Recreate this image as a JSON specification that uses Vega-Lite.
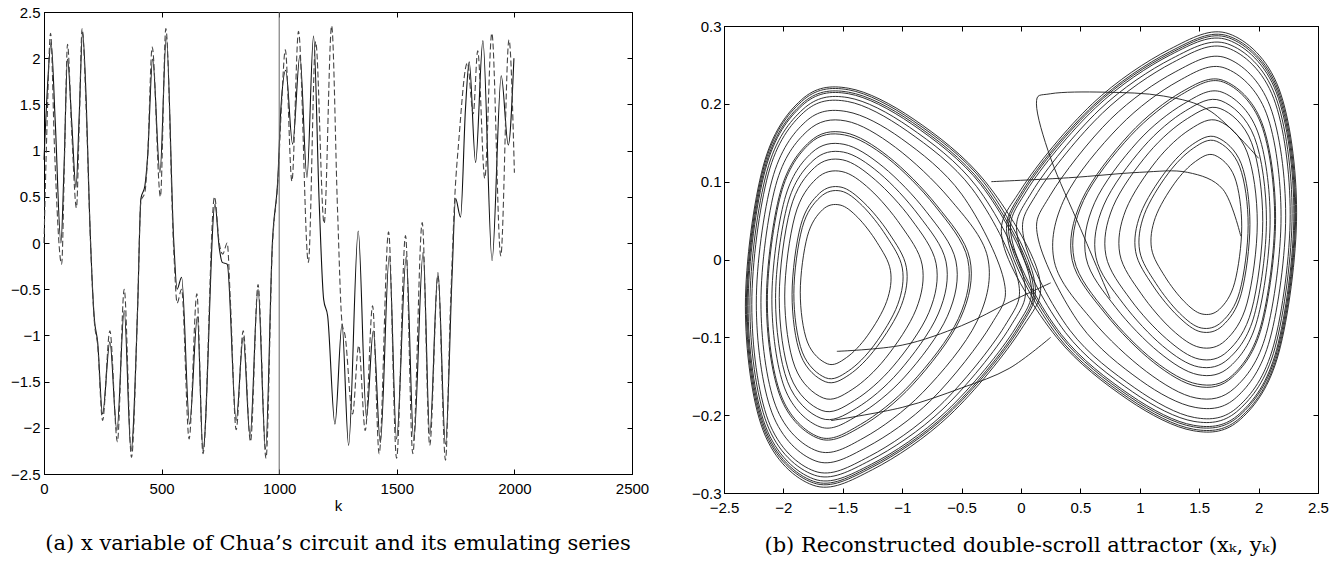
{
"$schema": "https://vega.github.io/schema/vega-lite/v6.json",
"padding": {"left": 9, "top": 0, "right": 0, "bottom": 0},
"spacing": 40,
"background": "white",
"config": {
  "view": {"stroke": "#000", "strokeWidth": 1},
  "axis": {"grid": false, "labelFont": "Liberation Sans", "labelFontSize": 15, "labelColor": "#000", "tickColor": "#000", "domainColor": "#000", "tickSize": -5, "labelPadding": 9, "labelFlush": false, "labelOverlap": false, "titleFont": "Liberation Sans", "titleFontWeight": "normal", "titleFontSize": 15, "titleColor": "#000"},
  "title": {"font": "DejaVu Serif", "fontSize": 21, "fontWeight": "normal", "color": "#000", "orient": "bottom"}
},
"datasets": {
  "solid": [
{"k":0,"v":0.9},{"k":15,"v":1.7},{"k":30,"v":2.17},{"k":48,"v":1.3},{"k":72,"v":0.0},{"k":85,"v":0.8},{"k":100,"v":1.99},{"k":118,"v":1.3},{"k":136,"v":0.6},{"k":150,"v":1.4},{"k":164,"v":2.28},{"k":180,"v":1.5},{"k":193,"v":0.37},{"k":214,"v":-0.82},{"k":228,"v":-1.07},{"k":249,"v":-1.85},{"k":280,"v":-1.07},{"k":310,"v":-2.03},{"k":341,"v":-0.73},{"k":370,"v":-2.25},{"k":398,"v":-0.71},{"k":412,"v":0.48},{"k":429,"v":0.62},{"k":440,"v":0.91},{"k":462,"v":1.99},{"k":493,"v":0.76},{"k":520,"v":2.23},{"k":552,"v":0.0},{"k":566,"v":-0.5},{"k":585,"v":-0.37},{"k":619,"v":-1.96},{"k":652,"v":-0.8},{"k":676,"v":-2.25},{"k":727,"v":0.42},{"k":745,"v":-0.05},{"k":758,"v":-0.21},{"k":779,"v":-0.23},{"k":817,"v":-1.92},{"k":847,"v":-1.02},{"k":876,"v":-2.09},{"k":910,"v":-0.5},{"k":942,"v":-2.23},{"k":971,"v":0.0},{"k":995,"v":0.73},{"k":1007,"v":1.45},{"k":1028,"v":1.87},{"k":1057,"v":1.07},{"k":1088,"v":2.03},{"k":1118,"v":0.71},{"k":1146,"v":2.24},{"k":1170,"v":0.44},{"k":1189,"v":-0.61},{"k":1206,"v":-0.79},{"k":1237,"v":-1.96},{"k":1267,"v":-0.88},{"k":1295,"v":-2.19},{"k":1336,"v":0.13},{"k":1371,"v":-1.89},{"k":1400,"v":-0.95},{"k":1430,"v":-2.16},{"k":1468,"v":-0.14},{"k":1499,"v":-2.12},{"k":1540,"v":-0.15},{"k":1572,"v":-2.14},{"k":1612,"v":-0.1},{"k":1640,"v":-2.07},{"k":1675,"v":-0.32},{"k":1707,"v":-2.18},{"k":1735,"v":-0.35},{"k":1750,"v":0.48},{"k":1771,"v":0.28},{"k":1792,"v":1.45},{"k":1808,"v":1.96},{"k":1835,"v":0.87},{"k":1866,"v":2.19},{"k":1905,"v":-0.19},{"k":1944,"v":1.81},{"k":1974,"v":1.06},{"k":1998,"v":2.0}
  ],
  "dashed": [
{"k":0,"v":0.0},{"k":12,"v":1.2},{"k":28,"v":2.27},{"k":45,"v":1.0},{"k":75,"v":-0.23},{"k":88,"v":1.0},{"k":100,"v":2.15},{"k":118,"v":1.2},{"k":138,"v":0.38},{"k":150,"v":1.3},{"k":162,"v":2.32},{"k":180,"v":1.4},{"k":195,"v":0.2},{"k":214,"v":-0.85},{"k":228,"v":-1.1},{"k":249,"v":-1.92},{"k":280,"v":-0.95},{"k":312,"v":-2.15},{"k":341,"v":-0.5},{"k":372,"v":-2.32},{"k":398,"v":-0.7},{"k":412,"v":0.45},{"k":429,"v":0.55},{"k":440,"v":0.9},{"k":460,"v":2.12},{"k":495,"v":0.5},{"k":518,"v":2.32},{"k":552,"v":-0.1},{"k":566,"v":-0.65},{"k":585,"v":-0.5},{"k":617,"v":-2.12},{"k":650,"v":-0.55},{"k":676,"v":-2.28},{"k":725,"v":0.5},{"k":745,"v":0.0},{"k":760,"v":-0.12},{"k":779,"v":0.0},{"k":792,"v":-0.6},{"k":817,"v":-2.02},{"k":847,"v":-0.95},{"k":878,"v":-2.15},{"k":910,"v":-0.45},{"k":944,"v":-2.33},{"k":970,"v":-0.1},{"k":995,"v":0.7},{"k":1010,"v":1.5},{"k":1026,"v":2.09},{"k":1054,"v":0.67},{"k":1082,"v":2.29},{"k":1124,"v":-0.21},{"k":1155,"v":2.18},{"k":1191,"v":0.21},{"k":1223,"v":2.35},{"k":1248,"v":0.36},{"k":1267,"v":-0.86},{"k":1280,"v":-1.0},{"k":1312,"v":-1.85},{"k":1338,"v":-1.11},{"k":1366,"v":-2.03},{"k":1397,"v":-0.68},{"k":1425,"v":-2.28},{"k":1465,"v":0.12},{"k":1499,"v":-2.33},{"k":1537,"v":0.08},{"k":1568,"v":-2.28},{"k":1608,"v":0.22},{"k":1640,"v":-2.19},{"k":1675,"v":-0.35},{"k":1707,"v":-2.35},{"k":1728,"v":-0.7},{"k":1747,"v":0.52},{"k":1763,"v":1.09},{"k":1800,"v":1.95},{"k":1825,"v":1.4},{"k":1844,"v":2.08},{"k":1874,"v":0.7},{"k":1904,"v":2.27},{"k":1942,"v":-0.14},{"k":1977,"v":2.2},{"k":2000,"v":0.76}
  ],
  "loops": [
{"g":"L1","i":0,"x":-1.858,"y":-0.042},{"g":"L1","i":1,"x":-1.798,"y":0.03},{"g":"L1","i":2,"x":-1.67,"y":0.064},{"g":"L1","i":3,"x":-1.523,"y":0.07},{"g":"L1","i":4,"x":-1.374,"y":0.054},{"g":"L1","i":5,"x":-1.212,"y":0.022},{"g":"L1","i":6,"x":-1.099,"y":-0.014},{"g":"L1","i":7,"x":-1.131,"y":-0.054},{"g":"L1","i":8,"x":-1.293,"y":-0.098},{"g":"L1","i":9,"x":-1.469,"y":-0.126},{"g":"L1","i":10,"x":-1.63,"y":-0.134},{"g":"L1","i":11,"x":-1.798,"y":-0.106},
{"g":"L2","i":0,"x":-1.912,"y":-0.044},{"g":"L2","i":1,"x":-1.841,"y":0.041},{"g":"L2","i":2,"x":-1.691,"y":0.08},{"g":"L2","i":3,"x":-1.517,"y":0.088},{"g":"L2","i":4,"x":-1.335,"y":0.069},{"g":"L2","i":5,"x":-1.137,"y":0.031},{"g":"L2","i":6,"x":-0.999,"y":-0.011},{"g":"L2","i":7,"x":-1.038,"y":-0.058},{"g":"L2","i":8,"x":-1.236,"y":-0.11},{"g":"L2","i":9,"x":-1.451,"y":-0.143},{"g":"L2","i":10,"x":-1.644,"y":-0.152},{"g":"L2","i":11,"x":-1.841,"y":-0.119},
{"g":"L3","i":0,"x":-1.927,"y":-0.045},{"g":"L3","i":1,"x":-1.854,"y":0.044},{"g":"L3","i":2,"x":-1.697,"y":0.085},{"g":"L3","i":3,"x":-1.515,"y":0.093},{"g":"L3","i":4,"x":-1.322,"y":0.073},{"g":"L3","i":5,"x":-1.112,"y":0.034},{"g":"L3","i":6,"x":-0.965,"y":-0.01},{"g":"L3","i":7,"x":-1.007,"y":-0.059},{"g":"L3","i":8,"x":-1.217,"y":-0.113},{"g":"L3","i":9,"x":-1.445,"y":-0.148},{"g":"L3","i":10,"x":-1.648,"y":-0.157},{"g":"L3","i":11,"x":-1.854,"y":-0.123},
{"g":"L4","i":0,"x":-1.989,"y":-0.047},{"g":"L4","i":1,"x":-1.903,"y":0.056},{"g":"L4","i":2,"x":-1.721,"y":0.104},{"g":"L4","i":3,"x":-1.507,"y":0.113},{"g":"L4","i":4,"x":-1.27,"y":0.09},{"g":"L4","i":5,"x":-1.012,"y":0.044},{"g":"L4","i":6,"x":-0.832,"y":-0.007},{"g":"L4","i":7,"x":-0.883,"y":-0.064},{"g":"L4","i":8,"x":-1.141,"y":-0.127},{"g":"L4","i":9,"x":-1.421,"y":-0.167},{"g":"L4","i":10,"x":-1.664,"y":-0.178},{"g":"L4","i":11,"x":-1.903,"y":-0.138},
{"g":"L5","i":0,"x":-2.035,"y":-0.049},{"g":"L5","i":1,"x":-1.941,"y":0.065},{"g":"L5","i":2,"x":-1.739,"y":0.118},{"g":"L5","i":3,"x":-1.5,"y":0.128},{"g":"L5","i":4,"x":-1.225,"y":0.102},{"g":"L5","i":5,"x":-0.925,"y":0.052},{"g":"L5","i":6,"x":-0.715,"y":-0.005},{"g":"L5","i":7,"x":-0.775,"y":-0.068},{"g":"L5","i":8,"x":-1.075,"y":-0.137},{"g":"L5","i":9,"x":-1.4,"y":-0.181},{"g":"L5","i":10,"x":-1.676,"y":-0.194},{"g":"L5","i":11,"x":-1.941,"y":-0.15},
{"g":"L6","i":0,"x":-2.066,"y":-0.05},{"g":"L6","i":1,"x":-1.965,"y":0.071},{"g":"L6","i":2,"x":-1.751,"y":0.127},{"g":"L6","i":3,"x":-1.495,"y":0.138},{"g":"L6","i":4,"x":-1.192,"y":0.111},{"g":"L6","i":5,"x":-0.862,"y":0.057},{"g":"L6","i":6,"x":-0.631,"y":-0.003},{"g":"L6","i":7,"x":-0.697,"y":-0.07},{"g":"L6","i":8,"x":-1.027,"y":-0.144},{"g":"L6","i":9,"x":-1.385,"y":-0.191},{"g":"L6","i":10,"x":-1.684,"y":-0.204},{"g":"L6","i":11,"x":-1.965,"y":-0.157},
{"g":"L17","i":0,"x":-2.097,"y":-0.051},{"g":"L17","i":1,"x":-1.99,"y":0.077},{"g":"L17","i":2,"x":-1.763,"y":0.137},{"g":"L17","i":3,"x":-1.49,"y":0.148},{"g":"L17","i":4,"x":-1.16,"y":0.119},{"g":"L17","i":5,"x":-0.8,"y":0.062},{"g":"L17","i":6,"x":-0.548,"y":-0.002},{"g":"L17","i":7,"x":-0.62,"y":-0.073},{"g":"L17","i":8,"x":-0.98,"y":-0.151},{"g":"L17","i":9,"x":-1.37,"y":-0.2},{"g":"L17","i":10,"x":-1.692,"y":-0.215},{"g":"L17","i":11,"x":-1.99,"y":-0.165},
{"g":"L7","i":0,"x":-2.135,"y":-0.053},{"g":"L7","i":1,"x":-2.021,"y":0.084},{"g":"L7","i":2,"x":-1.778,"y":0.149},{"g":"L7","i":3,"x":-1.484,"y":0.16},{"g":"L7","i":4,"x":-1.121,"y":0.13},{"g":"L7","i":5,"x":-0.725,"y":0.069},{"g":"L7","i":6,"x":-0.448,"y":0.0},{"g":"L7","i":7,"x":-0.527,"y":-0.076},{"g":"L7","i":8,"x":-0.923,"y":-0.159},{"g":"L7","i":9,"x":-1.352,"y":-0.212},{"g":"L7","i":10,"x":-1.702,"y":-0.228},{"g":"L7","i":11,"x":-2.021,"y":-0.174},
{"g":"L8","i":0,"x":-2.143,"y":-0.053},{"g":"L8","i":1,"x":-2.027,"y":0.086},{"g":"L8","i":2,"x":-1.781,"y":0.151},{"g":"L8","i":3,"x":-1.483,"y":0.163},{"g":"L8","i":4,"x":-1.114,"y":0.132},{"g":"L8","i":5,"x":-0.712,"y":0.07},{"g":"L8","i":6,"x":-0.431,"y":0.001},{"g":"L8","i":7,"x":-0.511,"y":-0.076},{"g":"L8","i":8,"x":-0.913,"y":-0.161},{"g":"L8","i":9,"x":-1.349,"y":-0.215},{"g":"L8","i":10,"x":-1.704,"y":-0.23},{"g":"L8","i":11,"x":-2.027,"y":-0.176},
{"g":"L9","i":0,"x":-2.189,"y":-0.055},{"g":"L9","i":1,"x":-2.065,"y":0.095},{"g":"L9","i":2,"x":-1.799,"y":0.165},{"g":"L9","i":3,"x":-1.474,"y":0.178},{"g":"L9","i":4,"x":-1.056,"y":0.144},{"g":"L9","i":5,"x":-0.6,"y":0.078},{"g":"L9","i":6,"x":-0.281,"y":0.003},{"g":"L9","i":7,"x":-0.372,"y":-0.08},{"g":"L9","i":8,"x":-0.828,"y":-0.171},{"g":"L9","i":9,"x":-1.322,"y":-0.229},{"g":"L9","i":10,"x":-1.716,"y":-0.246},{"g":"L9","i":11,"x":-2.065,"y":-0.188},
{"g":"L10","i":0,"x":-2.228,"y":-0.056},{"g":"L10","i":1,"x":-2.096,"y":0.102},{"g":"L10","i":2,"x":-1.814,"y":0.177},{"g":"L10","i":3,"x":-1.466,"y":0.19},{"g":"L10","i":4,"x":-1.004,"y":0.155},{"g":"L10","i":5,"x":-0.5,"y":0.084},{"g":"L10","i":6,"x":-0.147,"y":-0.025},{"g":"L10","i":7,"x":-0.248,"y":-0.083},{"g":"L10","i":8,"x":-0.752,"y":-0.18},{"g":"L10","i":9,"x":-1.298,"y":-0.241},{"g":"L10","i":10,"x":-1.726,"y":-0.259},{"g":"L10","i":11,"x":-2.096,"y":-0.197},
{"g":"L11","i":0,"x":-2.266,"y":-0.058},{"g":"L11","i":1,"x":-2.127,"y":0.11},{"g":"L11","i":2,"x":-1.829,"y":0.189},{"g":"L11","i":3,"x":-1.459,"y":0.203},{"g":"L11","i":4,"x":-0.958,"y":0.165},{"g":"L11","i":5,"x":-0.412,"y":0.091},{"g":"L11","i":6,"x":-0.03,"y":-0.023},{"g":"L11","i":7,"x":-0.139,"y":-0.086},{"g":"L11","i":8,"x":-0.685,"y":-0.188},{"g":"L11","i":9,"x":-1.277,"y":-0.253},{"g":"L11","i":10,"x":-1.736,"y":-0.272},{"g":"L11","i":11,"x":-2.127,"y":-0.207},
{"g":"L15","i":0,"x":-2.282,"y":-0.059},{"g":"L15","i":1,"x":-2.139,"y":0.113},{"g":"L15","i":2,"x":-1.835,"y":0.193},{"g":"L15","i":3,"x":-1.456,"y":0.208},{"g":"L15","i":4,"x":-0.939,"y":0.17},{"g":"L15","i":5,"x":-0.375,"y":0.094},{"g":"L15","i":6,"x":0.02,"y":-0.022},{"g":"L15","i":7,"x":-0.093,"y":-0.087},{"g":"L15","i":8,"x":-0.657,"y":-0.192},{"g":"L15","i":9,"x":-1.268,"y":-0.258},{"g":"L15","i":10,"x":-1.74,"y":-0.277},{"g":"L15","i":11,"x":-2.139,"y":-0.211},
{"g":"L12","i":0,"x":-2.297,"y":-0.059},{"g":"L12","i":1,"x":-2.151,"y":0.116},{"g":"L12","i":2,"x":-1.841,"y":0.198},{"g":"L12","i":3,"x":-1.453,"y":0.213},{"g":"L12","i":4,"x":-0.919,"y":0.174},{"g":"L12","i":5,"x":-0.337,"y":0.096},{"g":"L12","i":6,"x":0.07,"y":-0.021},{"g":"L12","i":7,"x":-0.046,"y":-0.088},{"g":"L12","i":8,"x":-0.628,"y":-0.195},{"g":"L12","i":9,"x":-1.259,"y":-0.263},{"g":"L12","i":10,"x":-1.744,"y":-0.282},{"g":"L12","i":11,"x":-2.151,"y":-0.214},
{"g":"L13","i":0,"x":-2.305,"y":-0.059},{"g":"L13","i":1,"x":-2.158,"y":0.117},{"g":"L13","i":2,"x":-1.844,"y":0.2},{"g":"L13","i":3,"x":-1.452,"y":0.215},{"g":"L13","i":4,"x":-0.913,"y":0.176},{"g":"L13","i":5,"x":-0.325,"y":0.097},{"g":"L13","i":6,"x":0.087,"y":-0.021},{"g":"L13","i":7,"x":-0.031,"y":-0.089},{"g":"L13","i":8,"x":-0.619,"y":-0.197},{"g":"L13","i":9,"x":-1.256,"y":-0.265},{"g":"L13","i":10,"x":-1.746,"y":-0.285},{"g":"L13","i":11,"x":-2.158,"y":-0.216},
{"g":"L16","i":0,"x":-2.312,"y":-0.06},{"g":"L16","i":1,"x":-2.164,"y":0.119},{"g":"L16","i":2,"x":-1.847,"y":0.203},{"g":"L16","i":3,"x":-1.451,"y":0.218},{"g":"L16","i":4,"x":-0.906,"y":0.178},{"g":"L16","i":5,"x":-0.313,"y":0.099},{"g":"L16","i":6,"x":0.103,"y":-0.02},{"g":"L16","i":7,"x":-0.016,"y":-0.089},{"g":"L16","i":8,"x":-0.609,"y":-0.198},{"g":"L16","i":9,"x":-1.253,"y":-0.267},{"g":"L16","i":10,"x":-1.748,"y":-0.287},{"g":"L16","i":11,"x":-2.164,"y":-0.218},
{"g":"L14","i":0,"x":-2.32,"y":-0.06},{"g":"L14","i":1,"x":-2.17,"y":0.12},{"g":"L14","i":2,"x":-1.85,"y":0.205},{"g":"L14","i":3,"x":-1.45,"y":0.22},{"g":"L14","i":4,"x":-0.9,"y":0.18},{"g":"L14","i":5,"x":-0.3,"y":0.1},{"g":"L14","i":6,"x":0.15,"y":-0.02},{"g":"L14","i":7,"x":0.0,"y":-0.09},{"g":"L14","i":8,"x":-0.6,"y":-0.2},{"g":"L14","i":9,"x":-1.25,"y":-0.27},{"g":"L14","i":10,"x":-1.75,"y":-0.29},{"g":"L14","i":11,"x":-2.17,"y":-0.22},
{"g":"R1","i":0,"x":1.858,"y":0.042},{"g":"R1","i":1,"x":1.798,"y":-0.03},{"g":"R1","i":2,"x":1.67,"y":-0.064},{"g":"R1","i":3,"x":1.523,"y":-0.07},{"g":"R1","i":4,"x":1.374,"y":-0.054},{"g":"R1","i":5,"x":1.212,"y":-0.022},{"g":"R1","i":6,"x":1.099,"y":0.014},{"g":"R1","i":7,"x":1.131,"y":0.054},{"g":"R1","i":8,"x":1.293,"y":0.098},{"g":"R1","i":9,"x":1.469,"y":0.126},{"g":"R1","i":10,"x":1.63,"y":0.134},{"g":"R1","i":11,"x":1.798,"y":0.106},
{"g":"R2","i":0,"x":1.912,"y":0.044},{"g":"R2","i":1,"x":1.841,"y":-0.041},{"g":"R2","i":2,"x":1.691,"y":-0.08},{"g":"R2","i":3,"x":1.517,"y":-0.088},{"g":"R2","i":4,"x":1.335,"y":-0.069},{"g":"R2","i":5,"x":1.137,"y":-0.031},{"g":"R2","i":6,"x":0.999,"y":0.011},{"g":"R2","i":7,"x":1.038,"y":0.058},{"g":"R2","i":8,"x":1.236,"y":0.11},{"g":"R2","i":9,"x":1.451,"y":0.143},{"g":"R2","i":10,"x":1.644,"y":0.152},{"g":"R2","i":11,"x":1.841,"y":0.119},
{"g":"R3","i":0,"x":1.927,"y":0.045},{"g":"R3","i":1,"x":1.854,"y":-0.044},{"g":"R3","i":2,"x":1.697,"y":-0.085},{"g":"R3","i":3,"x":1.515,"y":-0.093},{"g":"R3","i":4,"x":1.322,"y":-0.073},{"g":"R3","i":5,"x":1.112,"y":-0.034},{"g":"R3","i":6,"x":0.965,"y":0.01},{"g":"R3","i":7,"x":1.007,"y":0.059},{"g":"R3","i":8,"x":1.217,"y":0.113},{"g":"R3","i":9,"x":1.445,"y":0.148},{"g":"R3","i":10,"x":1.648,"y":0.157},{"g":"R3","i":11,"x":1.854,"y":0.123},
{"g":"R4","i":0,"x":1.989,"y":0.047},{"g":"R4","i":1,"x":1.903,"y":-0.056},{"g":"R4","i":2,"x":1.721,"y":-0.104},{"g":"R4","i":3,"x":1.507,"y":-0.113},{"g":"R4","i":4,"x":1.27,"y":-0.09},{"g":"R4","i":5,"x":1.012,"y":-0.044},{"g":"R4","i":6,"x":0.832,"y":0.007},{"g":"R4","i":7,"x":0.883,"y":0.064},{"g":"R4","i":8,"x":1.141,"y":0.127},{"g":"R4","i":9,"x":1.421,"y":0.167},{"g":"R4","i":10,"x":1.664,"y":0.178},{"g":"R4","i":11,"x":1.903,"y":0.138},
{"g":"R5","i":0,"x":2.035,"y":0.049},{"g":"R5","i":1,"x":1.941,"y":-0.065},{"g":"R5","i":2,"x":1.739,"y":-0.118},{"g":"R5","i":3,"x":1.5,"y":-0.128},{"g":"R5","i":4,"x":1.225,"y":-0.102},{"g":"R5","i":5,"x":0.925,"y":-0.052},{"g":"R5","i":6,"x":0.715,"y":0.005},{"g":"R5","i":7,"x":0.775,"y":0.068},{"g":"R5","i":8,"x":1.075,"y":0.137},{"g":"R5","i":9,"x":1.4,"y":0.181},{"g":"R5","i":10,"x":1.676,"y":0.194},{"g":"R5","i":11,"x":1.941,"y":0.15},
{"g":"R6","i":0,"x":2.066,"y":0.05},{"g":"R6","i":1,"x":1.965,"y":-0.071},{"g":"R6","i":2,"x":1.751,"y":-0.127},{"g":"R6","i":3,"x":1.495,"y":-0.138},{"g":"R6","i":4,"x":1.192,"y":-0.111},{"g":"R6","i":5,"x":0.862,"y":-0.057},{"g":"R6","i":6,"x":0.631,"y":0.003},{"g":"R6","i":7,"x":0.697,"y":0.07},{"g":"R6","i":8,"x":1.027,"y":0.144},{"g":"R6","i":9,"x":1.385,"y":0.191},{"g":"R6","i":10,"x":1.684,"y":0.204},{"g":"R6","i":11,"x":1.965,"y":0.157},
{"g":"R17","i":0,"x":2.097,"y":0.051},{"g":"R17","i":1,"x":1.99,"y":-0.077},{"g":"R17","i":2,"x":1.763,"y":-0.137},{"g":"R17","i":3,"x":1.49,"y":-0.148},{"g":"R17","i":4,"x":1.16,"y":-0.119},{"g":"R17","i":5,"x":0.8,"y":-0.062},{"g":"R17","i":6,"x":0.548,"y":0.002},{"g":"R17","i":7,"x":0.62,"y":0.073},{"g":"R17","i":8,"x":0.98,"y":0.151},{"g":"R17","i":9,"x":1.37,"y":0.2},{"g":"R17","i":10,"x":1.692,"y":0.215},{"g":"R17","i":11,"x":1.99,"y":0.165},
{"g":"R7","i":0,"x":2.135,"y":0.053},{"g":"R7","i":1,"x":2.021,"y":-0.084},{"g":"R7","i":2,"x":1.778,"y":-0.149},{"g":"R7","i":3,"x":1.484,"y":-0.16},{"g":"R7","i":4,"x":1.121,"y":-0.13},{"g":"R7","i":5,"x":0.725,"y":-0.069},{"g":"R7","i":6,"x":0.448,"y":0.0},{"g":"R7","i":7,"x":0.527,"y":0.076},{"g":"R7","i":8,"x":0.923,"y":0.159},{"g":"R7","i":9,"x":1.352,"y":0.212},{"g":"R7","i":10,"x":1.702,"y":0.228},{"g":"R7","i":11,"x":2.021,"y":0.174},
{"g":"R8","i":0,"x":2.143,"y":0.053},{"g":"R8","i":1,"x":2.027,"y":-0.086},{"g":"R8","i":2,"x":1.781,"y":-0.151},{"g":"R8","i":3,"x":1.483,"y":-0.163},{"g":"R8","i":4,"x":1.114,"y":-0.132},{"g":"R8","i":5,"x":0.712,"y":-0.07},{"g":"R8","i":6,"x":0.431,"y":-0.001},{"g":"R8","i":7,"x":0.511,"y":0.076},{"g":"R8","i":8,"x":0.913,"y":0.161},{"g":"R8","i":9,"x":1.349,"y":0.215},{"g":"R8","i":10,"x":1.704,"y":0.23},{"g":"R8","i":11,"x":2.027,"y":0.176},
{"g":"R9","i":0,"x":2.189,"y":0.055},{"g":"R9","i":1,"x":2.065,"y":-0.095},{"g":"R9","i":2,"x":1.799,"y":-0.165},{"g":"R9","i":3,"x":1.474,"y":-0.178},{"g":"R9","i":4,"x":1.056,"y":-0.144},{"g":"R9","i":5,"x":0.6,"y":-0.078},{"g":"R9","i":6,"x":0.281,"y":-0.003},{"g":"R9","i":7,"x":0.372,"y":0.08},{"g":"R9","i":8,"x":0.828,"y":0.171},{"g":"R9","i":9,"x":1.322,"y":0.229},{"g":"R9","i":10,"x":1.716,"y":0.246},{"g":"R9","i":11,"x":2.065,"y":0.188},
{"g":"R10","i":0,"x":2.228,"y":0.056},{"g":"R10","i":1,"x":2.096,"y":-0.102},{"g":"R10","i":2,"x":1.814,"y":-0.177},{"g":"R10","i":3,"x":1.466,"y":-0.19},{"g":"R10","i":4,"x":1.004,"y":-0.155},{"g":"R10","i":5,"x":0.5,"y":-0.084},{"g":"R10","i":6,"x":0.147,"y":0.025},{"g":"R10","i":7,"x":0.248,"y":0.083},{"g":"R10","i":8,"x":0.752,"y":0.18},{"g":"R10","i":9,"x":1.298,"y":0.241},{"g":"R10","i":10,"x":1.726,"y":0.259},{"g":"R10","i":11,"x":2.096,"y":0.197},
{"g":"R11","i":0,"x":2.266,"y":0.058},{"g":"R11","i":1,"x":2.127,"y":-0.11},{"g":"R11","i":2,"x":1.829,"y":-0.189},{"g":"R11","i":3,"x":1.459,"y":-0.203},{"g":"R11","i":4,"x":0.958,"y":-0.165},{"g":"R11","i":5,"x":0.412,"y":-0.091},{"g":"R11","i":6,"x":0.03,"y":0.023},{"g":"R11","i":7,"x":0.139,"y":0.086},{"g":"R11","i":8,"x":0.685,"y":0.188},{"g":"R11","i":9,"x":1.277,"y":0.253},{"g":"R11","i":10,"x":1.736,"y":0.272},{"g":"R11","i":11,"x":2.127,"y":0.207},
{"g":"R15","i":0,"x":2.282,"y":0.059},{"g":"R15","i":1,"x":2.139,"y":-0.113},{"g":"R15","i":2,"x":1.835,"y":-0.193},{"g":"R15","i":3,"x":1.456,"y":-0.208},{"g":"R15","i":4,"x":0.939,"y":-0.17},{"g":"R15","i":5,"x":0.375,"y":-0.094},{"g":"R15","i":6,"x":-0.02,"y":0.022},{"g":"R15","i":7,"x":0.093,"y":0.087},{"g":"R15","i":8,"x":0.657,"y":0.192},{"g":"R15","i":9,"x":1.268,"y":0.258},{"g":"R15","i":10,"x":1.74,"y":0.277},{"g":"R15","i":11,"x":2.139,"y":0.211},
{"g":"R12","i":0,"x":2.297,"y":0.059},{"g":"R12","i":1,"x":2.151,"y":-0.116},{"g":"R12","i":2,"x":1.841,"y":-0.198},{"g":"R12","i":3,"x":1.453,"y":-0.213},{"g":"R12","i":4,"x":0.919,"y":-0.174},{"g":"R12","i":5,"x":0.337,"y":-0.096},{"g":"R12","i":6,"x":-0.07,"y":0.021},{"g":"R12","i":7,"x":0.046,"y":0.088},{"g":"R12","i":8,"x":0.628,"y":0.195},{"g":"R12","i":9,"x":1.259,"y":0.263},{"g":"R12","i":10,"x":1.744,"y":0.282},{"g":"R12","i":11,"x":2.151,"y":0.214},
{"g":"R13","i":0,"x":2.305,"y":0.059},{"g":"R13","i":1,"x":2.158,"y":-0.117},{"g":"R13","i":2,"x":1.844,"y":-0.2},{"g":"R13","i":3,"x":1.452,"y":-0.215},{"g":"R13","i":4,"x":0.913,"y":-0.176},{"g":"R13","i":5,"x":0.325,"y":-0.097},{"g":"R13","i":6,"x":-0.087,"y":0.021},{"g":"R13","i":7,"x":0.031,"y":0.089},{"g":"R13","i":8,"x":0.619,"y":0.197},{"g":"R13","i":9,"x":1.256,"y":0.265},{"g":"R13","i":10,"x":1.746,"y":0.285},{"g":"R13","i":11,"x":2.158,"y":0.216},
{"g":"R16","i":0,"x":2.312,"y":0.06},{"g":"R16","i":1,"x":2.164,"y":-0.119},{"g":"R16","i":2,"x":1.847,"y":-0.203},{"g":"R16","i":3,"x":1.451,"y":-0.218},{"g":"R16","i":4,"x":0.906,"y":-0.178},{"g":"R16","i":5,"x":0.313,"y":-0.099},{"g":"R16","i":6,"x":-0.103,"y":0.02},{"g":"R16","i":7,"x":0.016,"y":0.089},{"g":"R16","i":8,"x":0.609,"y":0.198},{"g":"R16","i":9,"x":1.253,"y":0.267},{"g":"R16","i":10,"x":1.748,"y":0.287},{"g":"R16","i":11,"x":2.164,"y":0.218},
{"g":"R14","i":0,"x":2.32,"y":0.06},{"g":"R14","i":1,"x":2.17,"y":-0.12},{"g":"R14","i":2,"x":1.85,"y":-0.205},{"g":"R14","i":3,"x":1.45,"y":-0.22},{"g":"R14","i":4,"x":0.9,"y":-0.18},{"g":"R14","i":5,"x":0.3,"y":-0.1},{"g":"R14","i":6,"x":-0.15,"y":0.02},{"g":"R14","i":7,"x":0.0,"y":0.09},{"g":"R14","i":8,"x":0.6,"y":0.2},{"g":"R14","i":9,"x":1.25,"y":0.27},{"g":"R14","i":10,"x":1.75,"y":0.29},{"g":"R14","i":11,"x":2.17,"y":0.22}
  ],
  "paths": [
{"g":"T1","i":0,"x":0.75,"y":-0.05},{"g":"T1","i":1,"x":0.5,"y":0.04},{"g":"T1","i":2,"x":0.25,"y":0.13},{"g":"T1","i":3,"x":0.13,"y":0.2},{"g":"T1","i":4,"x":0.25,"y":0.213},{"g":"T1","i":5,"x":0.7,"y":0.215},{"g":"T1","i":6,"x":1.2,"y":0.21},{"g":"T1","i":7,"x":1.6,"y":0.19},{"g":"T1","i":8,"x":2.0,"y":0.13},
{"g":"T2","i":0,"x":-0.25,"y":0.1},{"g":"T2","i":1,"x":0.4,"y":0.105},{"g":"T2","i":2,"x":1.0,"y":0.112},{"g":"T2","i":3,"x":1.4,"y":0.112},{"g":"T2","i":4,"x":1.7,"y":0.09},{"g":"T2","i":5,"x":1.85,"y":0.03},
{"g":"T3","i":0,"x":-1.55,"y":-0.118},{"g":"T3","i":1,"x":-1.0,"y":-0.11},{"g":"T3","i":2,"x":-0.5,"y":-0.085},{"g":"T3","i":3,"x":-0.1,"y":-0.055},{"g":"T3","i":4,"x":0.25,"y":-0.03},
{"g":"T4","i":0,"x":-1.6,"y":-0.207},{"g":"T4","i":1,"x":-1.0,"y":-0.19},{"g":"T4","i":2,"x":-0.5,"y":-0.165},{"g":"T4","i":3,"x":-0.1,"y":-0.14},{"g":"T4","i":4,"x":0.25,"y":-0.1}
  ]
},
"hconcat": [
  {
    "width": 588, "height": 462,
    "title": {"text": "(a) x variable of Chua’s circuit and its emulating series", "offset": 20},
    "resolve": {"axis": {"x": "independent", "y": "independent"}},
    "layer": [
      {"data": {"name": "solid"}, "mark": {"type": "line", "interpolate": "monotone", "color": "#111", "strokeWidth": 1.1},
       "encoding": {
         "x": {"field": "k", "type": "quantitative", "scale": {"domain": [0, 2500], "nice": false, "zero": false}, "axis": {"values": [0, 500, 1000, 1500, 2000, 2500], "format": "d", "title": "k", "titlePadding": 2, "labelPadding": 12}},
         "y": {"field": "v", "type": "quantitative", "scale": {"domain": [-2.5, 2.5], "nice": false, "zero": false}, "axis": {"values": [-2.5, -2, -1.5, -1, -0.5, 0, 0.5, 1, 1.5, 2, 2.5], "format": "~g", "title": null}}
       }},
      {"data": {"name": "dashed"}, "mark": {"type": "line", "interpolate": "monotone", "color": "#444", "strokeWidth": 1.1, "strokeDash": [6, 3]},
       "encoding": {
         "x": {"field": "k", "type": "quantitative", "scale": {"domain": [0, 2500], "nice": false, "zero": false}, "axis": null},
         "y": {"field": "v", "type": "quantitative", "scale": {"domain": [-2.5, 2.5], "nice": false, "zero": false}, "axis": null}
       }},
      {"data": {"values": [{"k": 1000}]}, "mark": {"type": "rule", "color": "#666", "strokeWidth": 1},
       "encoding": {"x": {"field": "k", "type": "quantitative", "scale": {"domain": [0, 2500], "nice": false, "zero": false}, "axis": null}}},
      {"data": {"values": [{"k": 0, "v": 0}]}, "mark": {"type": "point", "opacity": 0},
       "encoding": {
         "x": {"field": "k", "type": "quantitative", "scale": {"domain": [0, 2500], "nice": false, "zero": false}, "axis": {"orient": "top", "values": [0, 500, 1000, 1500, 2000, 2500], "labels": false, "title": "_", "titleColor": "#ffffff", "titleFontSize": 11, "titlePadding": 0}},
         "y": {"field": "v", "type": "quantitative", "scale": {"domain": [-2.5, 2.5], "nice": false, "zero": false}, "axis": {"orient": "right", "values": [-2.5, -2, -1.5, -1, -0.5, 0, 0.5, 1, 1.5, 2, 2.5], "labels": false, "title": null}}
       }}
    ]
  },
  {
    "spacing": 0,
    "vconcat": [
      {"width": 594, "height": 5, "data": {"values": [{"a": 1}]}, "mark": {"type": "point", "opacity": 0}, "view": {"stroke": null}},
      {
        "width": 594, "height": 467,
        "title": {"text": "(b) Reconstructed double-scroll attractor (xₖ, yₖ)", "offset": 20},
        "resolve": {"axis": {"x": "independent", "y": "independent"}},
        "layer": [
          {"data": {"name": "loops"}, "mark": {"type": "line", "interpolate": "cardinal-closed", "color": "#1a1a1a", "strokeWidth": 0.9},
           "encoding": {
             "x": {"field": "x", "type": "quantitative", "scale": {"domain": [-2.5, 2.5], "nice": false, "zero": false}, "axis": {"values": [-2.5, -2, -1.5, -1, -0.5, 0, 0.5, 1, 1.5, 2, 2.5], "format": "~g", "title": null, "labelPadding": 12}},
             "y": {"field": "y", "type": "quantitative", "scale": {"domain": [-0.3, 0.3], "nice": false, "zero": false}, "axis": {"values": [-0.3, -0.2, -0.1, 0, 0.1, 0.2, 0.3], "format": "~g", "title": null, "labelPadding": 8}},
             "detail": {"field": "g", "type": "nominal"},
             "order": {"field": "i", "type": "quantitative"}
           }},
          {"data": {"name": "paths"}, "mark": {"type": "line", "interpolate": "cardinal", "color": "#1a1a1a", "strokeWidth": 0.9},
           "encoding": {
             "x": {"field": "x", "type": "quantitative", "scale": {"domain": [-2.5, 2.5], "nice": false, "zero": false}, "axis": null},
             "y": {"field": "y", "type": "quantitative", "scale": {"domain": [-0.3, 0.3], "nice": false, "zero": false}, "axis": null},
             "detail": {"field": "g", "type": "nominal"},
             "order": {"field": "i", "type": "quantitative"}
           }},
          {"data": {"values": [{"x": 0, "y": 0}]}, "mark": {"type": "point", "opacity": 0},
           "encoding": {
             "x": {"field": "x", "type": "quantitative", "scale": {"domain": [-2.5, 2.5], "nice": false, "zero": false}, "axis": {"orient": "top", "values": [-2.5, -2, -1.5, -1, -0.5, 0, 0.5, 1, 1.5, 2, 2.5], "labels": false, "title": null}},
             "y": {"field": "y", "type": "quantitative", "scale": {"domain": [-0.3, 0.3], "nice": false, "zero": false}, "axis": {"orient": "right", "values": [-0.3, -0.2, -0.1, 0, 0.1, 0.2, 0.3], "labels": false, "title": null}}
           }}
        ]
      }
    ]
  }
]
}
